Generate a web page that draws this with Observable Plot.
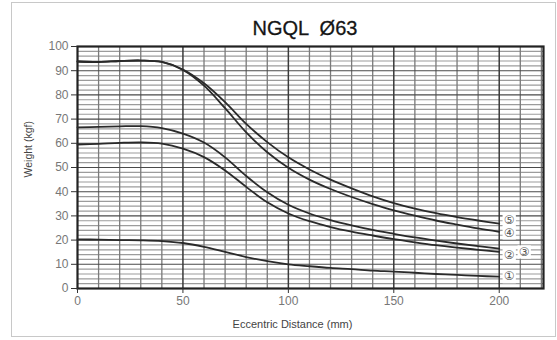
<!DOCTYPE html>
<html><head><meta charset="utf-8">
<script src="https://cdn.jsdelivr.net/npm/d3@7"></script>
<script src="https://cdn.jsdelivr.net/npm/@observablehq/plot@0.6"></script>
<style>
body{margin:0;background:#fff;font-family:"Liberation Sans",Arial,sans-serif;}
#wrap{position:relative;width:557px;height:340px;overflow:hidden;background:#fff}
#border{position:absolute;left:11px;top:2px;width:545px;height:335px;border:1.5px solid #c8c8c8;box-sizing:border-box;pointer-events:none}
#title{position:absolute;left:72px;width:466px;top:15px;text-align:center;font-size:20px;color:#151515;height:26px;line-height:26px;white-space:pre;-webkit-text-stroke:0.3px #151515}
#chart{position:absolute;left:0;top:40px}
</style></head><body>
<div id="wrap"><div id="title"></div><div id="chart"></div><div id="border"></div></div>
<script>
// Eccentric distance (mm)
const distance = [0,10,20,30,40,50,60,70,80,90,100,110,120,130,140,150,160,170,180,190,200];
// Weight (kgf) per curve
const curve1 = [20.3,20.2,20.0,19.9,19.6,18.8,17.2,15.1,13.0,11.3,10.0,9.2,8.5,8.0,7.4,7.0,6.5,6.0,5.6,5.2,4.9];
const curve2 = [59.5,59.8,60.2,60.4,59.9,57.8,54.3,48.8,42.0,35.6,31.0,27.8,25.4,23.5,21.9,20.4,19.1,17.9,16.9,16.0,15.1];
const curve3 = [66.6,66.8,67.0,67.1,66.3,64.0,60.3,54.2,46.5,39.8,34.6,31.0,28.3,26.1,24.2,22.6,21.1,19.8,18.6,17.5,16.5];
const curve4 = [93.8,93.6,94.0,94.2,93.6,90.3,83.8,74.5,64.5,56.3,49.9,45.0,41.1,37.8,34.9,32.3,30.1,28.1,26.4,24.8,23.4];
const curve5 = [93.8,93.6,94.0,94.2,93.6,90.5,84.8,77.0,68.0,60.5,54.2,49.2,45.0,41.4,38.1,35.3,33.0,31.1,29.5,28.1,26.8];
const curveNames = ["①","②","③","④","⑤"];
const yTicks = [0,10,20,30,40,50,60,70,80,90,100];
const xTicks = [0,50,100,150,200];
const title = "NGQL  Ø63";
const xLabel = "Eccentric Distance (mm)";
const yLabel = "Weight (kgf)";

const series = [curve1, curve2, curve3, curve4, curve5];
const rows = [];
series.forEach((vals, k) => vals.forEach((v, i) => rows.push({s: curveNames[k], x: distance[i], y: v})));
const ends = series.map((vals, k) => ({s: curveNames[k], x: distance[distance.length - 1], y: vals[vals.length - 1]}));

// label offsets (px) for end labels
const labelOffset = {"①": [10, 0], "②": [10, 3.5], "③": [25, 3.4], "④": [10, 1], "⑤": [10, -3.3]};

const labelMarks = [];
ends.forEach(e => {
  const [dx, dy] = labelOffset[e.s];
  labelMarks.push(Plot.dot([e], {x: "x", y: "y", dx, dy, symbol: "square", r: 7.5, fill: "white", stroke: null}));
  labelMarks.push(Plot.text([e], {x: "x", y: "y", text: "s", dx, dy, fontSize: 12, fill: "#555", fontFamily: "DejaVu Sans"}));
});

const chart = Plot.plot({
  width: 557, height: 300,
  marginLeft: 77, marginRight: 14, marginTop: 6, marginBottom: 52,
  style: {fontFamily: "Liberation Sans, Arial, sans-serif", fontSize: "12px", background: "transparent", color: "#333"},
  x: {domain: [0, 221]},
  y: {domain: [0, 100]},
  marks: [
    Plot.ruleY(d3.range(0, 101, 2).filter(v => v % 10 !== 0), {stroke: "#9c9c9c", strokeWidth: 1.2}),
    Plot.ruleX(d3.range(10, 221, 10).filter(v => v % 50 !== 0), {stroke: "#7a7a7a", strokeWidth: 1.3}),
    Plot.ruleY(d3.range(10, 100, 10), {stroke: "#4a4a4a", strokeWidth: 1.1}),
    Plot.ruleX([50, 100, 150, 200], {stroke: "#3a3a3a", strokeWidth: 1.5}),
    Plot.frame({stroke: "#222", strokeWidth: 2.2}),
    Plot.axisY(yTicks, {tickSize: 6, tickPadding: 3, stroke: "#333", fill: "#777", fontSize: 12, label: null}),
    Plot.axisX(xTicks, {tickSize: 5, tickPadding: 3, stroke: "#333", fill: "#777", fontSize: 12, label: null}),
    Plot.line(rows, {x: "x", y: "y", z: "s", curve: "catmull-rom", stroke: "#2a2a2a", strokeWidth: 1.8}),
    ...labelMarks,
    Plot.text([xLabel], {frameAnchor: "bottom", text: d => d, dx: -18, dy: 39, fontSize: 11, fill: "#444"}),
    Plot.text([yLabel], {frameAnchor: "left", text: d => d, rotate: -90, dx: -49, dy: 10, fontSize: 10.5, fill: "#444"})
  ]
});
document.getElementById("chart").appendChild(chart);
document.getElementById("title").textContent = title;
</script>
</body></html>
